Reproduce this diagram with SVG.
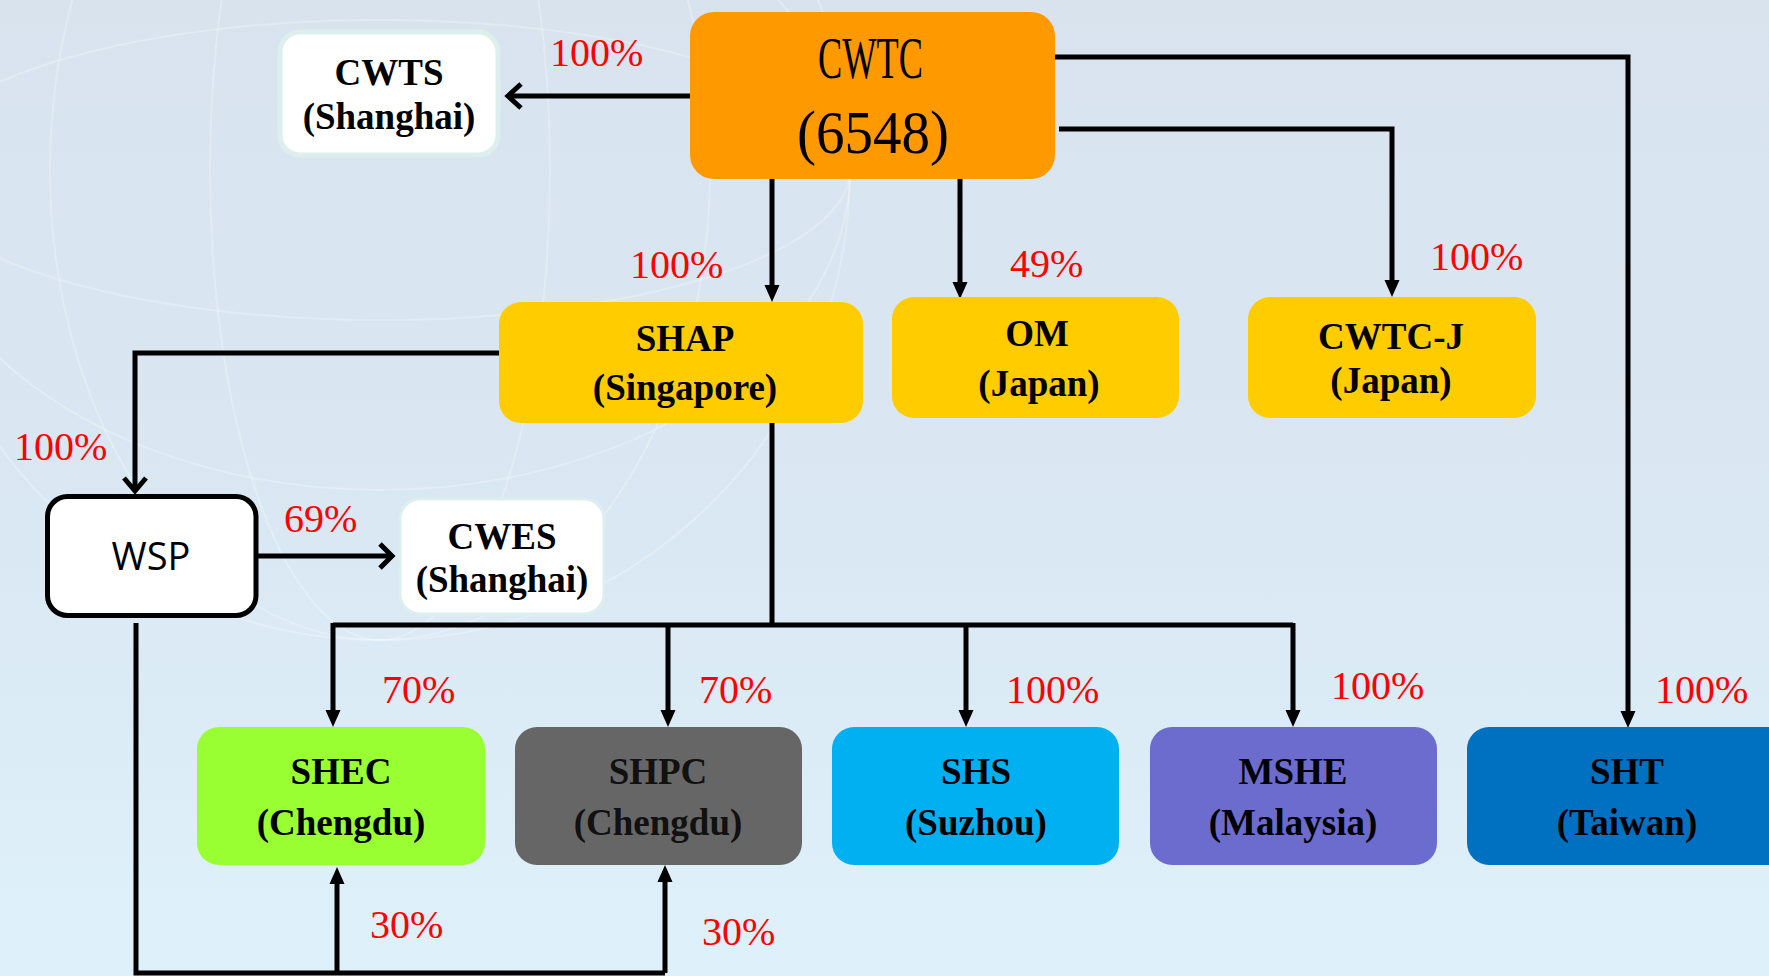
<svg xmlns="http://www.w3.org/2000/svg" width="1769" height="976" viewBox="0 0 1769 976">
  <defs>
    <linearGradient id="bg" x1="0" y1="0" x2="0" y2="1">
      <stop offset="0" stop-color="#D8E3EE"/>
      <stop offset="0.55" stop-color="#DAE8F3"/>
      <stop offset="1" stop-color="#DEF1FA"/>
    </linearGradient>
    <style>
      .node-label{font-family:"Liberation Serif","Times New Roman",serif;font-weight:bold;font-size:37px;fill:#000;text-anchor:middle}
      .pct{font-family:"Liberation Serif","Times New Roman",serif;font-size:40px;fill:#FF0000}
      .line{fill:none;stroke:#000;stroke-width:5}
      .chev{fill:none;stroke:#000;stroke-width:5;stroke-linejoin:miter}
      .tri{fill:#000}
      .globe{fill:none;stroke:#FFFFFF;stroke-opacity:0.25;stroke-width:2}
    </style>
  </defs>

  <rect x="0" y="0" width="1769" height="976" fill="url(#bg)"/>
  <g id="background-globe">
    <ellipse class="globe" cx="380" cy="170" rx="470" ry="470"/>
    <ellipse class="globe" cx="380" cy="170" rx="330" ry="470"/>
    <ellipse class="globe" cx="380" cy="170" rx="170" ry="470"/>
    <ellipse class="globe" cx="380" cy="170" rx="470" ry="150"/>
    <ellipse class="globe" cx="380" cy="170" rx="470" ry="320"/>
  </g>

  <g id="connectors">
    <!-- CWTC -> CWTS -->
    <path class="line" d="M690,96 H510"/>
    <path class="chev" d="M521,84 L508,96 L521,108"/>
    <!-- CWTC -> SHAP -->
    <path class="line" d="M772,179 V288"/>
    <path class="tri" d="M764.5,285 L779.5,285 L772,302 Z"/>
    <!-- CWTC -> OM -->
    <path class="line" d="M960,179 V284"/>
    <path class="tri" d="M952.5,282 L967.5,282 L960,299 Z"/>
    <!-- CWTC -> CWTC-J -->
    <path class="line" d="M1059,129 H1392 V282"/>
    <path class="tri" d="M1384.5,280 L1399.5,280 L1392,297 Z"/>
    <!-- CWTC -> SHT -->
    <path class="line" d="M1055,57 H1628 V714"/>
    <path class="tri" d="M1620.5,711 L1635.5,711 L1628,728 Z"/>
    <!-- SHAP -> WSP -->
    <path class="line" d="M499,353 H135 V489"/>
    <path class="chev" d="M124,478 L135,491 L146,478"/>
    <!-- WSP -> CWES -->
    <path class="line" d="M258,556 H391"/>
    <path class="chev" d="M380,544 L392,556 L380,568"/>
    <!-- SHAP -> bus -->
    <path class="line" d="M772,423 V627"/>
    <path class="line" d="M333,625 H1293"/>
    <path class="line" d="M333,623 V713"/>
    <path class="tri" d="M325.5,710 L340.5,710 L333,727 Z"/>
    <path class="line" d="M668,623 V713"/>
    <path class="tri" d="M660.5,710 L675.5,710 L668,727 Z"/>
    <path class="line" d="M966,623 V713"/>
    <path class="tri" d="M958.5,710 L973.5,710 L966,727 Z"/>
    <path class="line" d="M1293,623 V713"/>
    <path class="tri" d="M1285.5,710 L1300.5,710 L1293,727 Z"/>
    <!-- WSP -> SHEC / SHPC -->
    <path class="line" d="M136,623 V973 H665"/>
    <path class="line" d="M337,973 V880"/>
    <path class="tri" d="M329.5,884 L344.5,884 L337,867 Z"/>
    <path class="line" d="M665,973 V878"/>
    <path class="tri" d="M657.5,882 L672.5,882 L665,865 Z"/>

    <text class="pct" x="550" y="66">100%</text>
    <text class="pct" x="630" y="278">100%</text>
    <text class="pct" x="1010" y="277">49%</text>
    <text class="pct" x="1430" y="270">100%</text>
    <text class="pct" x="14" y="460">100%</text>
    <text class="pct" x="284" y="532">69%</text>
    <text class="pct" x="382" y="703">70%</text>
    <text class="pct" x="699" y="703">70%</text>
    <text class="pct" x="1006" y="703">100%</text>
    <text class="pct" x="1331" y="699">100%</text>
    <text class="pct" x="1655" y="703">100%</text>
    <text class="pct" x="370" y="938">30%</text>
    <text class="pct" x="702" y="945">30%</text>
  </g>

  <g id="node-cwtc">
    <rect x="690" y="12" width="365" height="167" rx="24" fill="#FF9900"/>
    <text x="818" y="78" font-family="'Liberation Serif','Times New Roman',serif" font-size="60" textLength="105" lengthAdjust="spacingAndGlyphs">CWTC</text>
    <text x="797" y="153" font-family="'Liberation Serif','Times New Roman',serif" font-size="62" textLength="152" lengthAdjust="spacingAndGlyphs">(6548)</text>
  </g>

  <g id="node-cwts">
    <rect x="280" y="32" width="218" height="123" rx="20" fill="#FFFFFF" stroke="#DCEFEC" stroke-width="5"/>
    <text class="node-label" x="389" y="85">CWTS</text>
    <text class="node-label" x="389" y="129">(Shanghai)</text>
  </g>

  <g id="node-shap">
    <rect x="499" y="302" width="364" height="121" rx="22" fill="#FFCC00"/>
    <text class="node-label" x="685" y="351">SHAP</text>
    <text class="node-label" x="685" y="400">(Singapore)</text>
  </g>

  <g id="node-om">
    <rect x="892" y="297" width="287" height="121" rx="22" fill="#FFCC00"/>
    <text class="node-label" x="1037" y="346">OM</text>
    <text class="node-label" x="1039" y="396">(Japan)</text>
  </g>

  <g id="node-cwtcj">
    <rect x="1248" y="297" width="288" height="121" rx="22" fill="#FFCC00"/>
    <text class="node-label" x="1391" y="349">CWTC-J</text>
    <text class="node-label" x="1391" y="393">(Japan)</text>
  </g>

  <g id="node-wsp">
    <rect x="47.5" y="496.5" width="208.5" height="119" rx="20" fill="#FFFFFF" stroke="#000" stroke-width="5"/>
    <text x="151" y="570" font-family="'Open Sans','Noto Sans',sans-serif" font-size="38" text-anchor="middle" fill="#000">WSP</text>
  </g>

  <g id="node-cwes">
    <rect x="400" y="499" width="204" height="115" rx="20" fill="#FFFFFF" stroke="#DCEFEC" stroke-width="3"/>
    <text class="node-label" x="502" y="549">CWES</text>
    <text class="node-label" x="502" y="592">(Shanghai)</text>
  </g>

  <g id="node-shec">
    <rect x="197" y="727" width="288" height="138" rx="22" fill="#99FF33"/>
    <text class="node-label" x="341" y="784">SHEC</text>
    <text class="node-label" x="341" y="835">(Chengdu)</text>
  </g>

  <g id="node-shpc">
    <rect x="515" y="727" width="287" height="138" rx="22" fill="#666666"/>
    <text class="node-label" x="658" y="784" style="fill:#111">SHPC</text>
    <text class="node-label" x="658" y="835" style="fill:#111">(Chengdu)</text>
  </g>

  <g id="node-shs">
    <rect x="832" y="727" width="287" height="138" rx="22" fill="#00B0F0"/>
    <text class="node-label" x="976" y="784">SHS</text>
    <text class="node-label" x="976" y="835">(Suzhou)</text>
  </g>

  <g id="node-mshe">
    <rect x="1150" y="727" width="287" height="138" rx="22" fill="#6C6CCE"/>
    <text class="node-label" x="1293" y="784">MSHE</text>
    <text class="node-label" x="1293" y="835">(Malaysia)</text>
  </g>

  <g id="node-sht">
    <rect x="1467" y="727" width="330" height="138" rx="22" fill="#0070C0"/>
    <text class="node-label" x="1627" y="784">SHT</text>
    <text class="node-label" x="1627" y="835">(Taiwan)</text>
  </g>
</svg>
